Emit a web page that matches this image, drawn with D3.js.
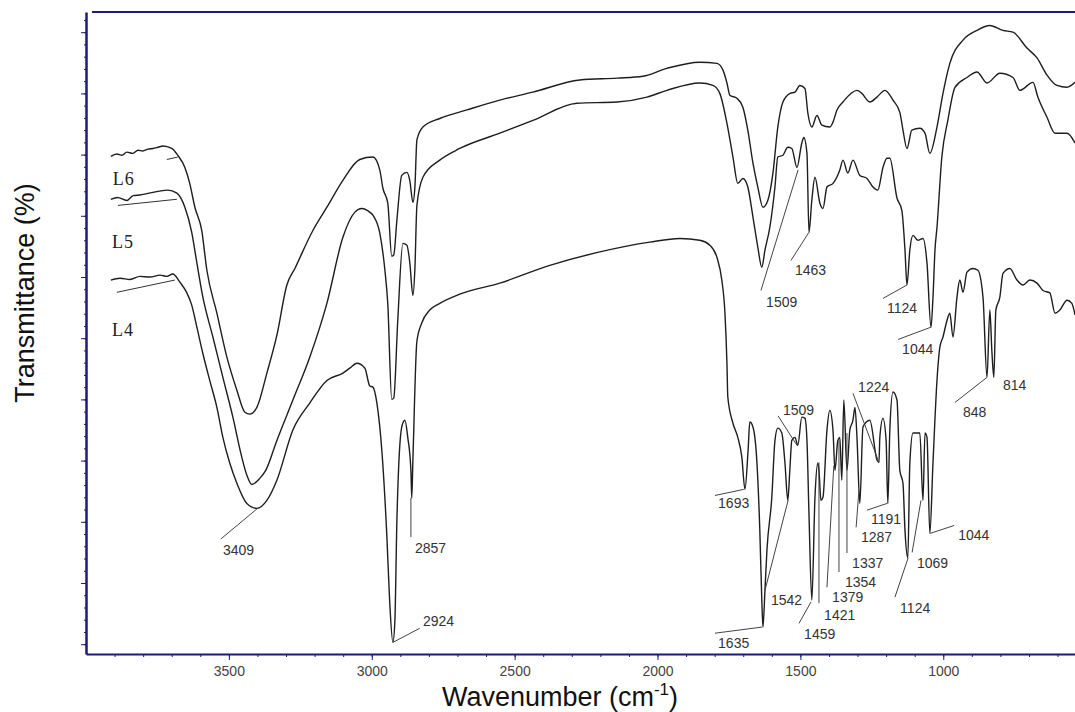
<!DOCTYPE html>
<html>
<head>
<meta charset="utf-8">
<script src="https://cdn.jsdelivr.net/npm/d3@7/dist/d3.min.js"></script>
<style>
  body { margin: 0; background: #fff; }
  svg { display: block; }
</style>
</head>
<body>
<div id="chart"></div>
<script>
// FTIR spectra of L4, L5, L6
// each point is [wavenumber (cm-1), transmittance (arbitrary %)]
const l6 = [
  [3913, 79.7], [3892, 80.1], [3874, 79.9], [3857, 80.4], [3836, 80.2], [3818, 80.7],
  [3801, 80.6], [3783, 80.9], [3766, 81.0], [3748, 81.2], [3731, 81.4], [3700, 81.0],
  [3679, 79.9], [3654, 77.9], [3637, 75.3], [3619, 71.4], [3595, 67.6], [3577, 61.1],
  [3542, 54.1], [3507, 46.9], [3472, 41.5], [3444, 37.9], [3427, 37.6], [3402, 38.7],
  [3367, 44.3], [3332, 50.5], [3297, 58.7], [3269, 61.4], [3206, 67.6], [3157, 71.4],
  [3101, 75.8], [3042, 79.2], [2996, 79.6], [2972, 77.5], [2961, 74.5], [2944, 72.1],
  [2930, 63.4], [2923, 63.6], [2912, 69.3], [2895, 76.6], [2877, 77.1], [2867, 75.8],
  [2856, 72.2], [2849, 74.7], [2842, 82.4], [2821, 84.5], [2762, 85.9], [2667, 87.3],
  [2552, 88.9], [2436, 90.2], [2272, 92.2], [2142, 92.5], [2051, 92.8], [1967, 94.1],
  [1852, 95.1], [1792, 94.9], [1771, 93.8], [1757, 91.7], [1747, 89.7], [1722, 89.2],
  [1701, 87.7], [1684, 84.0], [1666, 78.6], [1649, 74.7], [1631, 71.4], [1614, 72.5],
  [1596, 77.0], [1579, 84.5], [1561, 88.6], [1536, 90.0], [1519, 90.2], [1502, 91.3],
  [1484, 90.8], [1474, 86.8], [1460, 84.5], [1442, 86.4], [1425, 84.8], [1397, 84.5],
  [1386, 85.3], [1372, 87.3], [1351, 88.6], [1302, 90.5], [1285, 90.0], [1257, 88.6],
  [1232, 89.4], [1204, 90.5], [1176, 88.9], [1152, 86.9], [1141, 84.0], [1127, 81.0],
  [1110, 84.0], [1082, 84.3], [1064, 83.5], [1047, 80.2], [1022, 84.5], [1001, 90.0],
  [977, 94.9], [931, 98.7], [882, 100.3], [837, 101.1], [791, 100.3], [756, 100.0],
  [707, 97.4], [672, 95.8], [637, 93.0], [602, 91.3], [567, 91.0], [539, 91.8]
];

const l5 = [
  [3913, 72.7], [3890, 73.0], [3857, 72.5], [3835, 73.3], [3812, 73.4], [3714, 74.2],
  [3682, 73.7], [3654, 71.4], [3630, 67.3], [3612, 62.3], [3591, 56.7], [3556, 50.2],
  [3521, 43.6], [3486, 37.1], [3455, 30.6], [3437, 27.6], [3420, 26.1], [3392, 27.1],
  [3371, 28.4], [3332, 33.3], [3276, 39.9], [3217, 46.9], [3157, 55.7], [3101, 66.5],
  [3059, 70.6], [3035, 71.2], [3007, 70.6], [2996, 70.1], [2972, 67.2], [2954, 61.1],
  [2944, 55.7], [2930, 40.0], [2923, 40.2], [2909, 52.9], [2891, 65.5], [2877, 65.2],
  [2867, 62.4], [2856, 57.0], [2849, 61.4], [2842, 71.7], [2821, 76.3], [2762, 79.1],
  [2692, 81.0], [2552, 83.5], [2436, 85.6], [2282, 88.4], [2142, 88.6], [2037, 89.4],
  [1967, 90.5], [1852, 91.7], [1806, 91.3], [1782, 90.0], [1757, 85.1], [1736, 79.6],
  [1719, 75.3], [1701, 76.1], [1684, 74.7], [1666, 69.8], [1649, 64.9], [1635, 61.6],
  [1624, 64.4], [1607, 68.1], [1589, 74.7], [1579, 79.6], [1561, 79.9], [1544, 81.2],
  [1530, 81.0], [1512, 77.9], [1495, 81.9], [1488, 82.8], [1477, 80.2], [1470, 67.3],
  [1460, 72.5], [1449, 76.3], [1432, 72.1], [1421, 71.2], [1407, 74.7], [1386, 75.3],
  [1362, 77.5], [1351, 79.1], [1334, 77.0], [1316, 79.1], [1292, 76.6], [1267, 76.1],
  [1246, 74.7], [1229, 74.2], [1211, 77.9], [1197, 79.4], [1187, 79.4], [1162, 72.9],
  [1145, 70.9], [1134, 64.4], [1127, 58.7], [1117, 64.4], [1106, 66.8], [1089, 66.0],
  [1071, 66.3], [1057, 62.3], [1043, 51.8], [1036, 56.7], [1029, 64.4], [1022, 68.1],
  [1005, 79.6], [984, 85.6], [959, 91.0], [917, 92.6], [882, 93.5], [847, 91.7],
  [802, 93.3], [756, 92.6], [732, 90.5], [686, 91.8], [669, 89.4], [637, 86.1],
  [609, 83.5], [567, 83.5], [539, 81.9]
];

const l4 = [
  [3913, 59.5], [3881, 59.8], [3846, 59.6], [3811, 60.1], [3776, 60.0], [3741, 60.3],
  [3717, 60.1], [3696, 60.5], [3672, 59.2], [3647, 57.4], [3630, 55.4], [3612, 51.8],
  [3591, 47.5], [3567, 43.1], [3542, 38.7], [3521, 33.8], [3497, 29.6], [3472, 26.3],
  [3437, 23.0], [3402, 22.2], [3367, 23.5], [3332, 26.8], [3276, 35.0], [3217, 39.4],
  [3157, 43.1], [3101, 44.3], [3077, 45.1], [3052, 45.9], [3024, 45.1], [3007, 42.2],
  [2996, 42.0], [2982, 39.4], [2964, 31.2], [2947, 17.5], [2937, 6.7], [2926, 0.3],
  [2919, 3.9], [2912, 20.3], [2895, 35.5], [2884, 36.6], [2874, 33.8], [2863, 28.4],
  [2860, 23.9], [2856, 30.1], [2842, 49.5], [2825, 52.5], [2797, 54.6], [2762, 55.7],
  [2692, 57.2], [2552, 59.0], [2377, 61.9], [2202, 64.1], [2027, 65.7], [1922, 66.3],
  [1852, 66.0], [1817, 65.2], [1792, 63.2], [1775, 59.5], [1764, 54.1], [1757, 45.9],
  [1754, 40.4], [1736, 36.1], [1719, 33.8], [1705, 30.6], [1694, 25.3], [1683, 31.7],
  [1677, 36.3], [1666, 35.5], [1652, 29.6], [1642, 18.6], [1635, 7.2], [1631, 2.8],
  [1624, 8.8], [1617, 15.4], [1600, 24.0], [1589, 33.3], [1579, 35.3], [1565, 34.5],
  [1554, 29.6], [1544, 23.5], [1537, 28.4], [1530, 33.3], [1519, 33.8], [1509, 32.5],
  [1495, 37.1], [1484, 36.9], [1477, 33.3], [1470, 21.4], [1460, 7.2], [1449, 24.0],
  [1439, 29.6], [1435, 28.4], [1428, 23.5], [1421, 24.0], [1407, 35.0], [1397, 38.2],
  [1386, 35.0], [1379, 28.4], [1369, 33.3], [1362, 33.8], [1355, 26.8], [1348, 39.9],
  [1337, 28.4], [1327, 35.0], [1316, 36.6], [1309, 38.7], [1302, 33.8], [1292, 23.0],
  [1281, 35.5], [1257, 36.6], [1232, 30.1], [1225, 29.7], [1222, 33.8], [1211, 36.9],
  [1200, 33.3], [1194, 23.0], [1187, 35.0], [1176, 41.2], [1162, 39.9], [1152, 28.4],
  [1141, 26.3], [1134, 18.6], [1124, 14.1], [1117, 29.6], [1106, 34.5], [1082, 34.5],
  [1071, 23.5], [1064, 34.5], [1057, 33.8], [1047, 18.1], [1036, 29.6], [1022, 43.1],
  [1012, 48.5], [1001, 50.2], [987, 52.9], [977, 54.1], [966, 50.2], [952, 56.7],
  [942, 59.5], [931, 57.5], [917, 60.8], [896, 61.4], [879, 61.1], [861, 56.7],
  [847, 43.6], [837, 54.6], [830, 48.0], [823, 43.6], [816, 54.6], [802, 56.7],
  [791, 60.6], [767, 61.4], [742, 59.5], [721, 58.7], [697, 59.5], [672, 59.0],
  [651, 57.8], [627, 57.4], [609, 54.1], [592, 54.6], [567, 56.2], [550, 55.7],
  [539, 53.8]
];

const seriesNames = ['L6', 'L5', 'L4'];
// name label: [text wn, text T, leader from wn, T, to wn, T]
const seriesLabels = [
  [3906, 75.0, 3717, 79.2, 3679, 79.6],
  [3909, 64.7, 3888, 71.7, 3682, 72.7],
  [3909, 50.3, 3892, 57.5, 3689, 59.5]
];

// peak labels: [text, tip wn, tip T, tail wn, tail T, text wn, text T]
const peaks = [
  ['3409', 3402, 22.1, 3528, 17.2, 3521, 14.5],
  ['2924', 2926, 0.3, 2832, 2.6, 2821, 2.9],
  ['2857', 2863, 23.9, 2863, 17.5, 2849, 14.9],
  ['1509', 1508, 77.5, 1638, 57.8, 1620, 55.1],
  ['1463', 1470, 67.3, 1533, 62.7, 1519, 60.3],
  ['1124', 1127, 58.7, 1211, 56.5, 1197, 54.1],
  ['1044', 1043, 51.8, 1158, 49.8, 1144, 47.5],
  ['848', 847, 43.6, 959, 39.5, 931, 37.1],
  ['814', null, null, null, null, 791, 41.5],
  ['1224', 1225, 29.7, 1316, 41.0, 1298, 41.2],
  ['1509', 1512, 32.5, 1578, 37.3, 1561, 37.4],
  ['1693', 1698, 25.3, 1799, 24.3, 1788, 22.2],
  ['1635', 1634, 2.8, 1799, 1.8, 1788, -0.7],
  ['1542', 1543, 23.5, 1624, 8.8, 1603, 6.4],
  ['1459', 1463, 6.9, 1505, 3.4, 1487, 0.8],
  ['1421', 1435, 29.7, 1435, 6.7, 1417, 3.9],
  ['1379', 1383, 29.2, 1407, 9.3, 1389, 6.9],
  ['1354', 1365, 33.3, 1365, 11.8, 1344, 9.3],
  ['1337', 1337, 34.5, 1337, 14.9, 1319, 12.4],
  ['1287', 1295, 25.2, 1305, 19.1, 1288, 16.7],
  ['1191', 1197, 23.0, 1267, 21.9, 1253, 19.6],
  ['1044', 1046, 18.1, 962, 19.4, 948, 17.0],
  ['1069', 1078, 23.5, 1109, 15.0, 1092, 12.4],
  ['1124', 1123, 14.1, 1169, 7.7, 1151, 5.1]
];

const xMajor = [3500, 3000, 2500, 2000, 1500, 1000];
const xMinor = d3.range(3900, 500, -100);
const yMajor = d3.range(0, 101, 10);
const yMinor = d3.range(0, 103, 2);

const width = 1075, height = 712;
const margin = {top: 12, right: 0, bottom: 58, left: 86};
const axisColor = '#1b1b78';

let svg = d3.select('#chart')
  .append('svg')
  .attr('width', width)
  .attr('height', height)
  .style('background-color', '#FFFFFF');

let x = d3.scaleLinear().domain([4000, 539]).range([margin.left, width - margin.right]);
let y = d3.scaleLinear().domain([-1.6, 103.3]).range([height - margin.bottom, margin.top]);

// curves
let line = d3.line()
  .curve(d3.curveMonotoneX)
  .x(function(d) { return x(d[0]); })
  .y(function(d) { return y(d[1]); });

svg.selectAll('.spectrum')
  .data([l6, l5, l4])
  .enter().append('path')
  .attr('class', 'spectrum')
  .attr('d', line)
  .attr('fill', 'none')
  .attr('stroke', '#1e1e1e')
  .attr('stroke-width', 1.4)
  .attr('stroke-linejoin', 'round');

// series name labels
seriesLabels.forEach(function(s, i) {
  svg.append('line')
    .attr('x1', x(s[2])).attr('y1', y(s[3]))
    .attr('x2', x(s[4])).attr('y2', y(s[5]))
    .attr('stroke', '#333').attr('stroke-width', 1);
  svg.append('text')
    .attr('x', x(s[0]))
    .attr('y', y(s[1]))
    .style('font-family', '"Liberation Serif", "Times New Roman", serif')
    .style('font-size', '18px')
    .style('letter-spacing', '1px')
    .attr('fill', '#222')
    .text(seriesNames[i]);
});

// peak annotations
peaks.forEach(function(p) {
  if (p[1] !== null) {
    svg.append('line')
      .attr('x1', x(p[1])).attr('y1', y(p[2]))
      .attr('x2', x(p[3])).attr('y2', y(p[4]))
      .attr('stroke', '#444').attr('stroke-width', 1);
  }
  svg.append('text')
    .attr('x', x(p[5]))
    .attr('y', y(p[6]))
    .style('font-family', '"Liberation Sans", Arial, sans-serif')
    .style('font-size', '14px')
    .attr('fill', '#333')
    .text(p[0]);
});

// x axis
let gxMinor = svg.append('g')
  .attr('transform', 'translate(0,' + (height - margin.bottom) + ')')
  .call(d3.axisBottom(x).tickValues(xMinor).tickSize(3).tickSizeOuter(0).tickFormat(''));
gxMinor.select('.domain').remove();

let gx = svg.append('g')
  .attr('transform', 'translate(0,' + (height - margin.bottom) + ')')
  .call(d3.axisBottom(x).tickValues(xMajor).tickSize(6).tickSizeOuter(0).tickFormat(d3.format('d')));
gx.select('.domain').attr('stroke', axisColor).attr('stroke-width', 2);
gx.selectAll('text')
  .attr('y', 12)
  .style('font-family', '"Liberation Sans", Arial, sans-serif')
  .style('font-size', '14px')
  .attr('fill', '#444');
svg.selectAll('.tick line').attr('stroke', axisColor);

// y axis (no labels)
let gyMinor = svg.append('g')
  .attr('transform', 'translate(' + margin.left + ',0)')
  .call(d3.axisLeft(y).tickValues(yMinor).tickSize(2).tickSizeOuter(0).tickFormat(''));
gyMinor.select('.domain').remove();

let gy = svg.append('g')
  .attr('transform', 'translate(' + margin.left + ',0)')
  .call(d3.axisLeft(y).tickValues(yMajor).tickSize(5).tickSizeOuter(0).tickFormat(''));
gy.select('.domain').attr('stroke', axisColor).attr('stroke-width', 2.5);
svg.selectAll('.tick line').attr('stroke', axisColor);

// top frame line
svg.append('line')
  .attr('x1', margin.left + 6).attr('x2', width)
  .attr('y1', margin.top).attr('y2', margin.top)
  .attr('stroke', axisColor).attr('stroke-width', 2);

// axis titles
svg.append('text')
  .attr('transform', 'translate(34,' + 293 + ') rotate(-90)')
  .attr('text-anchor', 'middle')
  .style('font-family', '"Liberation Sans", Arial, sans-serif')
  .style('font-size', '27px')
  .attr('fill', '#111')
  .text('Transmittance (%)');

let xt = svg.append('text')
  .attr('x', 560)
  .attr('y', 706)
  .attr('text-anchor', 'middle')
  .style('font-family', '"Liberation Sans", Arial, sans-serif')
  .style('font-size', '27px')
  .attr('fill', '#111');
xt.append('tspan').text('Wavenumber (cm');
xt.append('tspan').attr('dy', -11).style('font-size', '17px').text('-1');
xt.append('tspan').attr('dy', 11).text(')');
</script>
</body>
</html>
